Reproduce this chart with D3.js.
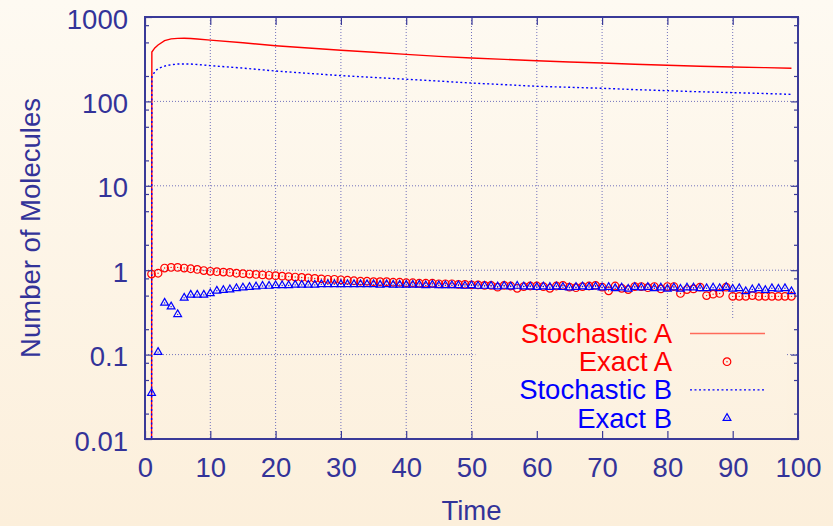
<!DOCTYPE html>
<meta charset="utf-8">

<!-- Load d3.js -->
<script src="https://d3js.org/d3.v7.min.js"></script>

<style>
  body { margin: 0; }
  text { font-family: "Liberation Sans", Arial, sans-serif; }
</style>

<div id="my_dataviz"></div>

<script>
// ---- data ----
// stochastic runs (lines)
var stochTimes = [1, 1.05, 1.5, 2, 3, 4, 5, 6, 7, 8, 10, 15, 20, 25, 30, 35, 40, 45, 50, 55, 60, 65, 70, 75, 80, 85, 90, 95, 99];
var stochA = [0.001, 385, 430, 466, 525, 550, 558, 560, 556, 548, 532, 495, 457, 429, 403, 382, 361, 342, 327, 315, 303, 293, 285, 275, 268, 261, 256, 251, 247];
var stochB = [0.001, 196, 225, 245, 262, 272, 277, 278, 277, 274, 265, 248, 229, 215, 202, 192, 183, 174, 165, 158, 151, 147, 143, 138, 134, 130, 127, 124, 121];

// exact solution (points)
var exactTimes = [1, 2, 3, 4, 5, 6, 7, 8, 9, 10, 11, 12, 13, 14, 15, 16, 17, 18, 19, 20,
  21, 22, 23, 24, 25, 26, 27, 28, 29, 30, 31, 32, 33, 34, 35, 36, 37, 38, 39, 40,
  41, 42, 43, 44, 45, 46, 47, 48, 49, 50, 51, 52, 53, 54, 55, 56, 57, 58, 59, 60,
  61, 62, 63, 64, 65, 66, 67, 68, 69, 70, 71, 72, 73, 74, 75, 76, 77, 78, 79, 80,
  81, 82, 83, 84, 85, 86, 87, 88, 89, 90, 91, 92, 93, 94, 95, 96, 97, 98, 99];
var exactA = [0.90, 0.92, 1.06, 1.08, 1.08, 1.06, 1.04, 1.02, 0.99, 0.97,
  0.96, 0.95, 0.94, 0.92, 0.91, 0.90, 0.89, 0.88, 0.87, 0.86,
  0.85, 0.84, 0.83, 0.82, 0.81, 0.80, 0.79, 0.78, 0.78, 0.77,
  0.76, 0.75, 0.74, 0.74, 0.73, 0.73, 0.73, 0.72, 0.72, 0.71,
  0.71, 0.70, 0.70, 0.70, 0.69, 0.69, 0.69, 0.68, 0.68, 0.67,
  0.67, 0.66, 0.66, 0.63, 0.66, 0.65, 0.61, 0.64, 0.65, 0.65,
  0.64, 0.61, 0.65, 0.66, 0.63, 0.62, 0.64, 0.65, 0.66, 0.63,
  0.57, 0.65, 0.61, 0.59, 0.64, 0.64, 0.62, 0.64, 0.60, 0.64,
  0.64, 0.53, 0.59, 0.60, 0.63, 0.50, 0.52, 0.53, 0.63, 0.49,
  0.49, 0.49, 0.50, 0.49, 0.49, 0.49, 0.49, 0.49, 0.49];
var exactB = [0.035, 0.107, 0.41, 0.37, 0.30, 0.47, 0.51, 0.51, 0.51, 0.53,
  0.57, 0.58, 0.59, 0.61, 0.62, 0.63, 0.64, 0.65, 0.65, 0.66,
  0.66, 0.66, 0.67, 0.67, 0.67, 0.67, 0.68, 0.68, 0.68, 0.68,
  0.68, 0.68, 0.68, 0.68, 0.68, 0.67, 0.68, 0.67, 0.67, 0.67,
  0.67, 0.67, 0.66, 0.67, 0.66, 0.66, 0.66, 0.66, 0.65, 0.66,
  0.65, 0.65, 0.65, 0.64, 0.65, 0.64, 0.65, 0.64, 0.64, 0.63,
  0.64, 0.63, 0.64, 0.63, 0.62, 0.63, 0.64, 0.63, 0.64, 0.62,
  0.63, 0.61, 0.62, 0.60, 0.63, 0.62, 0.63, 0.61, 0.62, 0.60,
  0.62, 0.60, 0.62, 0.62, 0.61, 0.61, 0.62, 0.61, 0.63, 0.60,
  0.61, 0.56, 0.59, 0.61, 0.58, 0.61, 0.60, 0.61, 0.56];

// ticks and labels
var xTicks = [0, 10, 20, 30, 40, 50, 60, 70, 80, 90, 100];
var yTicks = [0.01, 0.1, 1, 10, 100, 1000];
var yTickLabels = ["0.01", "0.1", "1", "10", "100", "1000"];
var yMinorSteps = [2, 5, 8];
var legendLabels = ["Stochastic A", "Exact A", "Stochastic B", "Exact B"];

// ---- layout ----
var W = 833, H = 526;
var margin = {top: 17, right: 35, bottom: 87, left: 145};
var width = W - margin.left - margin.right,
    height = H - margin.top - margin.bottom;

var axisColor = "#3a3a98",
    textColor = "#333399",
    gridColor = "#7272bc",
    red = "#ff0000",
    blue = "#0000ff",
    fontSize = 27.5;

var svg = d3.select("#my_dataviz")
  .append("svg")
    .attr("width", W)
    .attr("height", H);

// background gradient
var defs = svg.append("defs");
var grad = defs.append("linearGradient")
    .attr("id", "bg")
    .attr("gradientUnits", "userSpaceOnUse")
    .attr("x1", 0).attr("y1", 0).attr("x2", 0).attr("y2", H);
grad.append("stop").attr("offset", "0%").attr("stop-color", "#fefaf2");
grad.append("stop").attr("offset", "100%").attr("stop-color", "#fcefdb");

defs.append("clipPath").attr("id", "clip")
  .append("rect")
    .attr("x", 0).attr("y", 0)
    .attr("width", width).attr("height", height);

svg.append("rect").attr("width", W).attr("height", H).attr("fill", "url(#bg)");

var g = svg.append("g")
    .attr("transform", "translate(" + margin.left + "," + margin.top + ")");

// scales
var x = d3.scaleLinear().domain([0, 100]).range([0, width]);
var y = d3.scaleLog().domain([0.01, 1000]).range([height, 0]);

// grid
g.append("g").selectAll("line")
  .data(xTicks.slice(1, -1))
  .join("line")
    .attr("x1", function(d) { return x(d); })
    .attr("x2", function(d) { return x(d); })
    .attr("y1", 0).attr("y2", height)
    .attr("stroke", gridColor)
    .attr("stroke-dasharray", "1,2");
g.append("g").selectAll("line")
  .data(yTicks.slice(1, -1))
  .join("line")
    .attr("y1", function(d) { return y(d); })
    .attr("y2", function(d) { return y(d); })
    .attr("x1", 0).attr("x2", width)
    .attr("stroke", gridColor)
    .attr("stroke-dasharray", "1,2");

// key box hides the grid behind it
g.append("rect")
    .attr("x", x(50.6)).attr("y", y(0.26))
    .attr("width", x(98.3) - x(50.6))
    .attr("height", height - 1 - y(0.26))
    .attr("fill", "url(#bg)");

// lines
var plot = g.append("g").attr("clip-path", "url(#clip)");
var line = d3.line()
    .x(function(d) { return x(d[0]); })
    .y(function(d) { return y(d[1]); });

plot.append("path")
    .datum(d3.zip(stochTimes, stochA))
    .attr("d", line)
    .attr("fill", "none")
    .attr("stroke", red)
    .attr("stroke-width", 1.4);
plot.append("path")
    .datum(d3.zip(stochTimes, stochB))
    .attr("d", line)
    .attr("fill", "none")
    .attr("stroke", blue)
    .attr("stroke-width", 1.4)
    .attr("stroke-dasharray", "2,2.5");

// points
var tri = d3.symbol().type(d3.symbolTriangle).size(26);

function circleMark(sel) {
  sel.append("circle").attr("r", 3.8).attr("fill", "none").attr("stroke", red).attr("stroke-width", 1.2);
  sel.append("circle").attr("r", 0.7).attr("fill", red);
}
function triMark(sel) {
  sel.append("path").attr("d", tri).attr("fill", "none").attr("stroke", blue).attr("stroke-width", 1.2);
  sel.append("circle").attr("r", 0.7).attr("fill", blue);
}

plot.append("g").selectAll("g")
  .data(d3.zip(exactTimes, exactA))
  .join("g")
    .attr("transform", function(d) { return "translate(" + x(d[0]) + "," + y(d[1]) + ")"; })
    .call(circleMark);
plot.append("g").selectAll("g")
  .data(d3.zip(exactTimes, exactB))
  .join("g")
    .attr("transform", function(d) { return "translate(" + x(d[0]) + "," + y(d[1]) + ")"; })
    .call(triMark);

// axes
function styleAxis(a) {
  a.select(".domain").remove();
  a.selectAll("line").attr("stroke", axisColor).attr("stroke-width", 1.2);
  a.selectAll("text")
    .attr("fill", textColor)
    .style("font-size", fontSize + "px")
    .style("font-family", "'Liberation Sans', Arial, sans-serif");
}

var yMinor = [];
yTicks.slice(0, -1).forEach(function(t) {
  yMinorSteps.forEach(function(m) { yMinor.push(t * m); });
});

g.append("g")
    .attr("transform", "translate(0," + height + ")")
    .call(d3.axisBottom(x).tickValues(xTicks).tickSizeInner(-8).tickSizeOuter(0).tickPadding(18.5).tickFormat(d3.format("d")))
    .call(styleAxis);
g.append("g")
    .call(d3.axisTop(x).tickValues(xTicks).tickSizeInner(-8).tickSizeOuter(0).tickFormat(""))
    .call(styleAxis);
g.append("g")
    .call(d3.axisLeft(y).tickValues(yTicks).tickSizeInner(-7).tickSizeOuter(0).tickPadding(17)
      .tickFormat(function(d, i) { return yTickLabels[i]; }))
    .call(styleAxis)
    .selectAll("text").attr("dy", "0.4em");
g.append("g")
    .call(d3.axisLeft(y).tickValues(yMinor).tickSizeInner(-4).tickSizeOuter(0).tickFormat(""))
    .call(styleAxis);
g.append("g")
    .attr("transform", "translate(" + width + ",0)")
    .call(d3.axisRight(y).tickValues(yTicks).tickSizeInner(-7).tickSizeOuter(0).tickFormat(""))
    .call(styleAxis);
g.append("g")
    .attr("transform", "translate(" + width + ",0)")
    .call(d3.axisRight(y).tickValues(yMinor).tickSizeInner(-4).tickSizeOuter(0).tickFormat(""))
    .call(styleAxis);

// border
g.append("rect")
    .attr("width", width).attr("height", height)
    .attr("fill", "none")
    .attr("stroke", axisColor)
    .attr("stroke-width", 2);

// axis titles
svg.append("text")
    .attr("x", margin.left + width / 2)
    .attr("y", 520)
    .attr("text-anchor", "middle")
    .attr("fill", textColor)
    .style("font-size", fontSize + "px")
    .text("Time");
svg.append("text")
    .attr("transform", "translate(40," + (margin.top + height / 2) + ")rotate(-90)")
    .attr("text-anchor", "middle")
    .attr("fill", textColor)
    .style("font-size", fontSize + "px")
    .text("Number of Molecules");

// key
var keyColors = [red, red, blue, blue];
var key = svg.append("g");
legendLabels.forEach(function(label, i) {
  var by = 343 + i * 28.2;
  key.append("text")
      .attr("x", 672).attr("y", by)
      .attr("text-anchor", "end")
      .attr("fill", keyColors[i])
      .style("font-size", fontSize + "px")
      .text(label);
  var cy = by - 9.5;
  if (i === 0) {
    key.append("line").attr("x1", 690).attr("x2", 765).attr("y1", cy).attr("y2", cy)
      .attr("stroke", "#ff6a5a").attr("stroke-width", 1.6);
  } else if (i === 2) {
    key.append("line").attr("x1", 690).attr("x2", 765).attr("y1", cy).attr("y2", cy)
      .attr("stroke", blue).attr("stroke-width", 1.4).attr("stroke-dasharray", "2,2.5");
  } else if (i === 1) {
    key.append("g").attr("transform", "translate(727," + cy + ")").call(circleMark);
  } else {
    key.append("g").attr("transform", "translate(727," + cy + ")").call(triMark);
  }
});
</script>
